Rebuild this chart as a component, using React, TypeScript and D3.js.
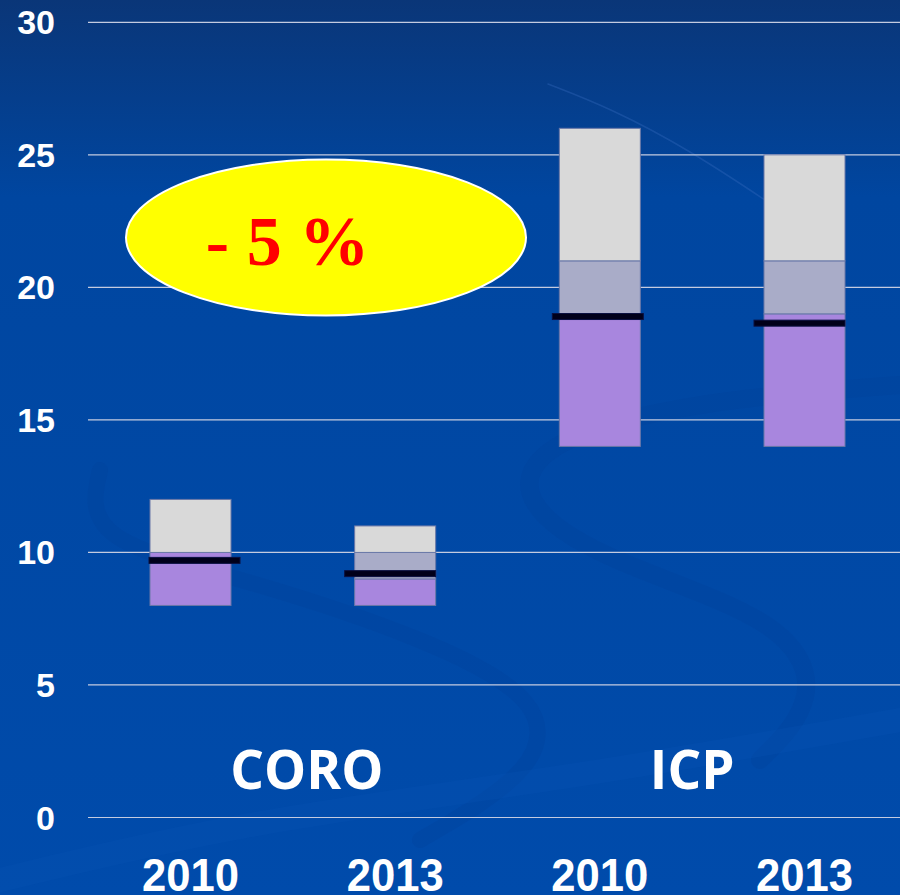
import * as d3 from "d3";
import React from "react";

// values
const groups = ["CORO", "CORO", "ICP", "ICP"];
const years = ["2010", "2013", "2010", "2013"];
const rangeLow = [8, 8, 14, 14];
const purpleTop = [10, 10, 21, 21];
const grayBottom = [10, 9, 19, 19];
const rangeHigh = [12, 11, 26, 25];
const medians = [9.7, 9.2, 18.9, 18.65];
const yTicks = [0, 5, 10, 15, 20, 25, 30];
const groupNames = ["CORO", "ICP"];
const badgeText = "- 5 %";

const W = 900;
const H = 895;
const barW = 81;
const medianDx = [4, -5, -2, -5];
const groupDx = [14, -10];

export default function App() {
  const y = d3.scaleLinear().domain([0, 30]).range([817.5, 22.3]);
  const x = d3.scalePoint<number>().domain(d3.range(years.length)).range([190.5, 804.5]);

  const grid = d3.scaleLinear().domain([0, 1]).range([88, W]);

  // background swirls, only decoration
  const swirl = d3.line().curve(d3.curveBasis);

  return (
    <svg width={W} height={H} style={{ position: "absolute", left: 0, top: 0 }}>
      <defs>
        <linearGradient id="bg" x1="0" y1="0" x2="0" y2="1">
          <stop offset="0" stopColor="#0a3678" />
          <stop offset="0.22" stopColor="#0046a0" />
          <stop offset="1" stopColor="#004bab" />
        </linearGradient>
      </defs>
      <rect width={W} height={H} fill="url(#bg)" />

      <g fill="none" strokeLinecap="round">
        <path d={swirl([[100, 470], [85, 540], [250, 580], [430, 640], [545, 700], [540, 770], [420, 840]] as any)!}
          stroke="#003e98" strokeWidth={16} opacity={0.25} />
        <path d={swirl([[900, 385], [700, 400], [540, 440], [515, 500], [600, 560], [790, 620], [820, 700], [760, 760]] as any)!}
          stroke="#003e98" strokeWidth={18} opacity={0.25} />
        <path d={swirl([[548, 84], [610, 108], [690, 150], [780, 210]] as any)!}
          stroke="#3a6cc0" strokeWidth={1.5} opacity={0.35} />
        <path d={swirl([[0, 880], [250, 820], [560, 780], [900, 720]] as any)!}
          stroke="#0552b4" strokeWidth={24} opacity={0.3} />
      </g>

      {/* grid + y labels */}
      {yTicks.map(t => (
        <g key={t}>
          <line x1={grid(0)} x2={grid(1)} y1={y(t)} y2={y(t)} stroke="#c4cbe0" strokeWidth={1.2} />
          <text x={55} y={y(t) + 12} textAnchor="end" fill="#fff"
            style={{ font: "bold 34px 'Liberation Sans', Arial, sans-serif" }}>{t}</text>
        </g>
      ))}

      {/* bars */}
      {years.map((yr, i) => {
        const left = x(i)! - barW / 2;
        const lavTop = Math.max(purpleTop[i], grayBottom[i]);
        return (
          <g key={i} stroke="#6a78a8" strokeWidth={1}>
            <rect x={left} width={barW} y={y(grayBottom[i])} height={y(rangeLow[i]) - y(grayBottom[i])} fill="#a886de" />
            {lavTop > grayBottom[i] && (
              <rect x={left} width={barW} y={y(lavTop)} height={y(grayBottom[i]) - y(lavTop)} fill="#a9acc8" />
            )}
            <rect x={left} width={barW} y={y(rangeHigh[i])} height={y(lavTop) - y(rangeHigh[i])} fill="#d9d9d9" />
            <rect x={x(i)! - 45.5 + medianDx[i]} width={91} y={y(medians[i]) - 3} height={6}
              fill="#00001a" stroke="#0a1040" />
          </g>
        );
      })}

      {/* group names */}
      {groupNames.map((g, k) => {
        const idx = d3.range(groups.length).filter(i => groups[i] === g);
        const cx = d3.mean(idx, i => x(i)!)! + groupDx[k];
        return (
          <text key={g} x={cx} y={789} textAnchor="middle" fill="#fff"
            style={{ font: "bold 53px 'Open Sans', sans-serif" }}>{g}</text>
        );
      })}

      {/* years */}
      {years.map((yr, i) => (
        <text key={i} x={x(i)!} y={891} textAnchor="middle" fill="#fff" textLength={97} lengthAdjust="spacingAndGlyphs"
          style={{ font: "bold 47px 'Liberation Sans', Arial, sans-serif" }}>{yr}</text>
      ))}

      {/* badge */}
      <ellipse cx={326} cy={237.5} rx={200} ry={78} fill="#ffff00" stroke="#ffffff" strokeWidth={2} />
      <text x={287.5} y={265} textAnchor="middle" fill="#ff0000"
        style={{ font: "bold 70px 'Liberation Serif', 'Times New Roman', serif" }}>{badgeText}</text>
    </svg>
  );
}
